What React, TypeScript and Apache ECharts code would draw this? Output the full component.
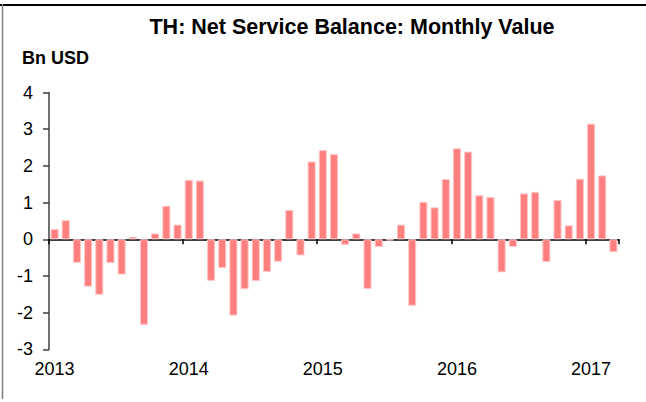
import React, { useEffect, useRef } from "react";
import * as echarts from "echarts";

const years = ["2013", "2014", "2015", "2016", "2017"];
const months = ["01", "02", "03", "04", "05", "06", "07", "08", "09", "10", "11", "12"];

const values2013 = [0.28, 0.52, -0.64, -1.29, -1.51, -0.65, -0.96, 0.07, -2.33, 0.16, 0.91, 0.4];
const values2014 = [1.62, 1.6, -1.13, -0.78, -2.08, -1.36, -1.14, -0.89, -0.61, 0.8, -0.44, 2.12];
const values2015 = [2.43, 2.32, -0.15, 0.16, -1.35, -0.21, -0.03, 0.4, -1.81, 1.02, 0.87, 1.64];
const values2016 = [2.48, 2.39, 1.2, 1.15, -0.9, -0.21, 1.25, 1.29, -0.62, 1.07, 0.38, 1.65];
const values2017 = [3.15, 1.74, -0.35];

const yTicks = { min: -3, max: 4, interval: 1 };

const title = "TH: Net Service Balance: Monthly Value";
const unitLabel = "Bn USD";

const values = [...values2013, ...values2014, ...values2015, ...values2016, ...values2017];
const categories: string[] = [];
years.forEach((y) => months.forEach((m) => categories.push(`${y}-${m}`)));
categories.length = values.length;

const FONT = "'Liberation Sans', Arial, Helvetica, sans-serif";

export default function App() {
  const ref = useRef<HTMLDivElement>(null);
  useEffect(() => {
    document.body.style.margin = "0";
    const chart = echarts.init(ref.current!, null, { renderer: "svg" });
    chart.setOption({
      animation: false,
      backgroundColor: "#ffffff",
      textStyle: { fontFamily: FONT },
      grid: { left: 49, right: 27, top: 92.5, bottom: 52.6, containLabel: false },
      graphic: [
        {
          type: "line",
          shape: { x1: 0, y1: 5, x2: 646, y2: 5 },
          style: { stroke: "#000000", lineWidth: 2 },
        },
        {
          type: "line",
          shape: { x1: 2.5, y1: 4, x2: 2.5, y2: 399 },
          style: { stroke: "#7f7f7f", lineWidth: 1.5 },
        },
        {
          type: "text",
          x: 352,
          y: 27,
          style: {
            text: title,
            fontFamily: FONT,
            fontSize: 21.5,
            fontWeight: "bold",
            fill: "#000",
            align: "center",
            verticalAlign: "middle",
          },
        },
        {
          type: "text",
          x: 22,
          y: 58,
          style: {
            text: unitLabel,
            fontFamily: FONT,
            fontSize: 18,
            fontWeight: "bold",
            fill: "#000",
            align: "left",
            verticalAlign: "middle",
          },
        },
      ],
      xAxis: [
        {
          type: "category",
          data: categories,
          boundaryGap: true,
          axisLine: { show: true, onZero: true, lineStyle: { color: "#000", width: 1.5 } },
          axisTick: {
            show: true,
            length: 5,
            interval: (i: number) => i % 12 === 0,
            lineStyle: { color: "#000", width: 1.5 },
          },
          axisLabel: { show: false },
          splitLine: { show: false },
        },
        {
          type: "category",
          data: categories,
          position: "bottom",
          boundaryGap: true,
          axisLine: { show: false, onZero: false },
          axisTick: { show: false },
          axisLabel: {
            show: true,
            interval: (i: number) => i % 12 === 0,
            formatter: (v: string) => v.slice(0, 4),
            fontSize: 18,
            fontFamily: FONT,
            color: "#000",
            margin: 11,
          },
          splitLine: { show: false },
        },
      ],
      yAxis: {
        type: "value",
        min: yTicks.min,
        max: yTicks.max,
        interval: yTicks.interval,
        axisLine: { show: true, lineStyle: { color: "#404040", width: 1.5 } },
        axisTick: { show: true, length: 6, lineStyle: { color: "#404040", width: 1.5 } },
        axisLabel: { fontSize: 18, fontFamily: FONT, color: "#000", margin: 16 },
        splitLine: { show: false },
      },
      series: [
        {
          type: "bar",
          xAxisIndex: 0,
          data: values,
          barCategoryGap: "28%",
          itemStyle: { color: "#FF7F7F", borderColor: "#FFC4C4", borderWidth: 1 },
        },
      ],
    });
    return () => chart.dispose();
  }, []);
  return <div ref={ref} style={{ width: 646, height: 402 }} />;
}
